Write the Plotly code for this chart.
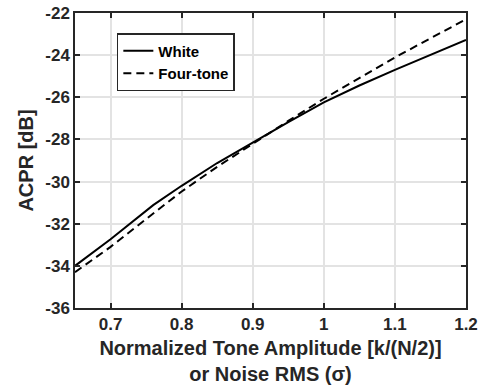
import plotly.graph_objects as go

white_x = [0.65, 0.7, 0.76, 0.8, 0.85, 0.9, 0.95, 1.0, 1.05, 1.1, 1.15, 1.2]
white_acpr = [-34.0, -32.74, -31.12, -30.2, -29.12, -28.14, -27.18, -26.24, -25.44, -24.7, -23.98, -23.28]
fourtone_x = [0.65, 0.7, 0.75, 0.8, 0.85, 0.9, 0.95, 1.0, 1.05, 1.1, 1.15, 1.2]
fourtone_acpr = [-34.3, -33.1, -31.78, -30.47, -29.3, -28.2, -27.12, -26.07, -25.08, -24.11, -23.2, -22.3]

x_ticks = [0.7, 0.8, 0.9, 1.0, 1.1, 1.2]
x_ticklabels = ["0.7", "0.8", "0.9", "1", "1.1", "1.2"]
y_ticks = [-36, -34, -32, -30, -28, -26, -24, -22]
y_ticklabels = ["-36", "-34", "-32", "-30", "-28", "-26", "-24", "-22"]

FONT = "Liberation Sans"
TXT = "#262626"

fig = go.Figure()
fig.add_trace(go.Scatter(x=white_x, y=white_acpr, mode="lines", name="White",
                         line=dict(color="black", width=2)))
fig.add_trace(go.Scatter(x=fourtone_x, y=fourtone_acpr, mode="lines", name="Four-tone",
                         line=dict(color="black", width=2, dash="8px,5px")))

axis_common = dict(
    automargin=False,
    showgrid=True, gridcolor="#e3e3e3", gridwidth=2,
    showline=True, linecolor=TXT, linewidth=1.5, mirror="ticks",
    ticks="inside", ticklen=5, tickwidth=1.5, tickcolor=TXT,
    zeroline=False,
    tickfont=dict(family=FONT, size=17, color=TXT, weight="bold"),
)

fig.update_layout(
    width=483, height=390,
    margin=dict(l=75, r=17, t=13, b=82),
    paper_bgcolor="white", plot_bgcolor="white",
    font=dict(family=FONT, color=TXT),
    showlegend=True,
    legend=dict(x=0.107, y=0.932, xanchor="left", yanchor="top",
                bgcolor="white", bordercolor=TXT, borderwidth=1.5,
                font=dict(family=FONT, size=15, color="black", weight="bold"),
                tracegroupgap=0, itemwidth=30),
    xaxis=dict(range=[0.65, 1.2], tickvals=x_ticks, ticktext=x_ticklabels,
               title=dict(text="Normalized Tone Amplitude [k/(N/2)]<br>or Noise RMS (σ)",
                          font=dict(family=FONT, size=20, color=TXT, weight="bold"),
                          standoff=8),
               **axis_common),
    yaxis=dict(range=[-36, -22], tickvals=y_ticks, ticktext=y_ticklabels,
               title=dict(text="ACPR [dB]",
                          font=dict(family=FONT, size=20, color=TXT, weight="bold"),
                          standoff=6),
               **axis_common),
)

fig.write_html("out.html", config={"displayModeBar": False},
               post_script="document.body.style.margin='0';")
